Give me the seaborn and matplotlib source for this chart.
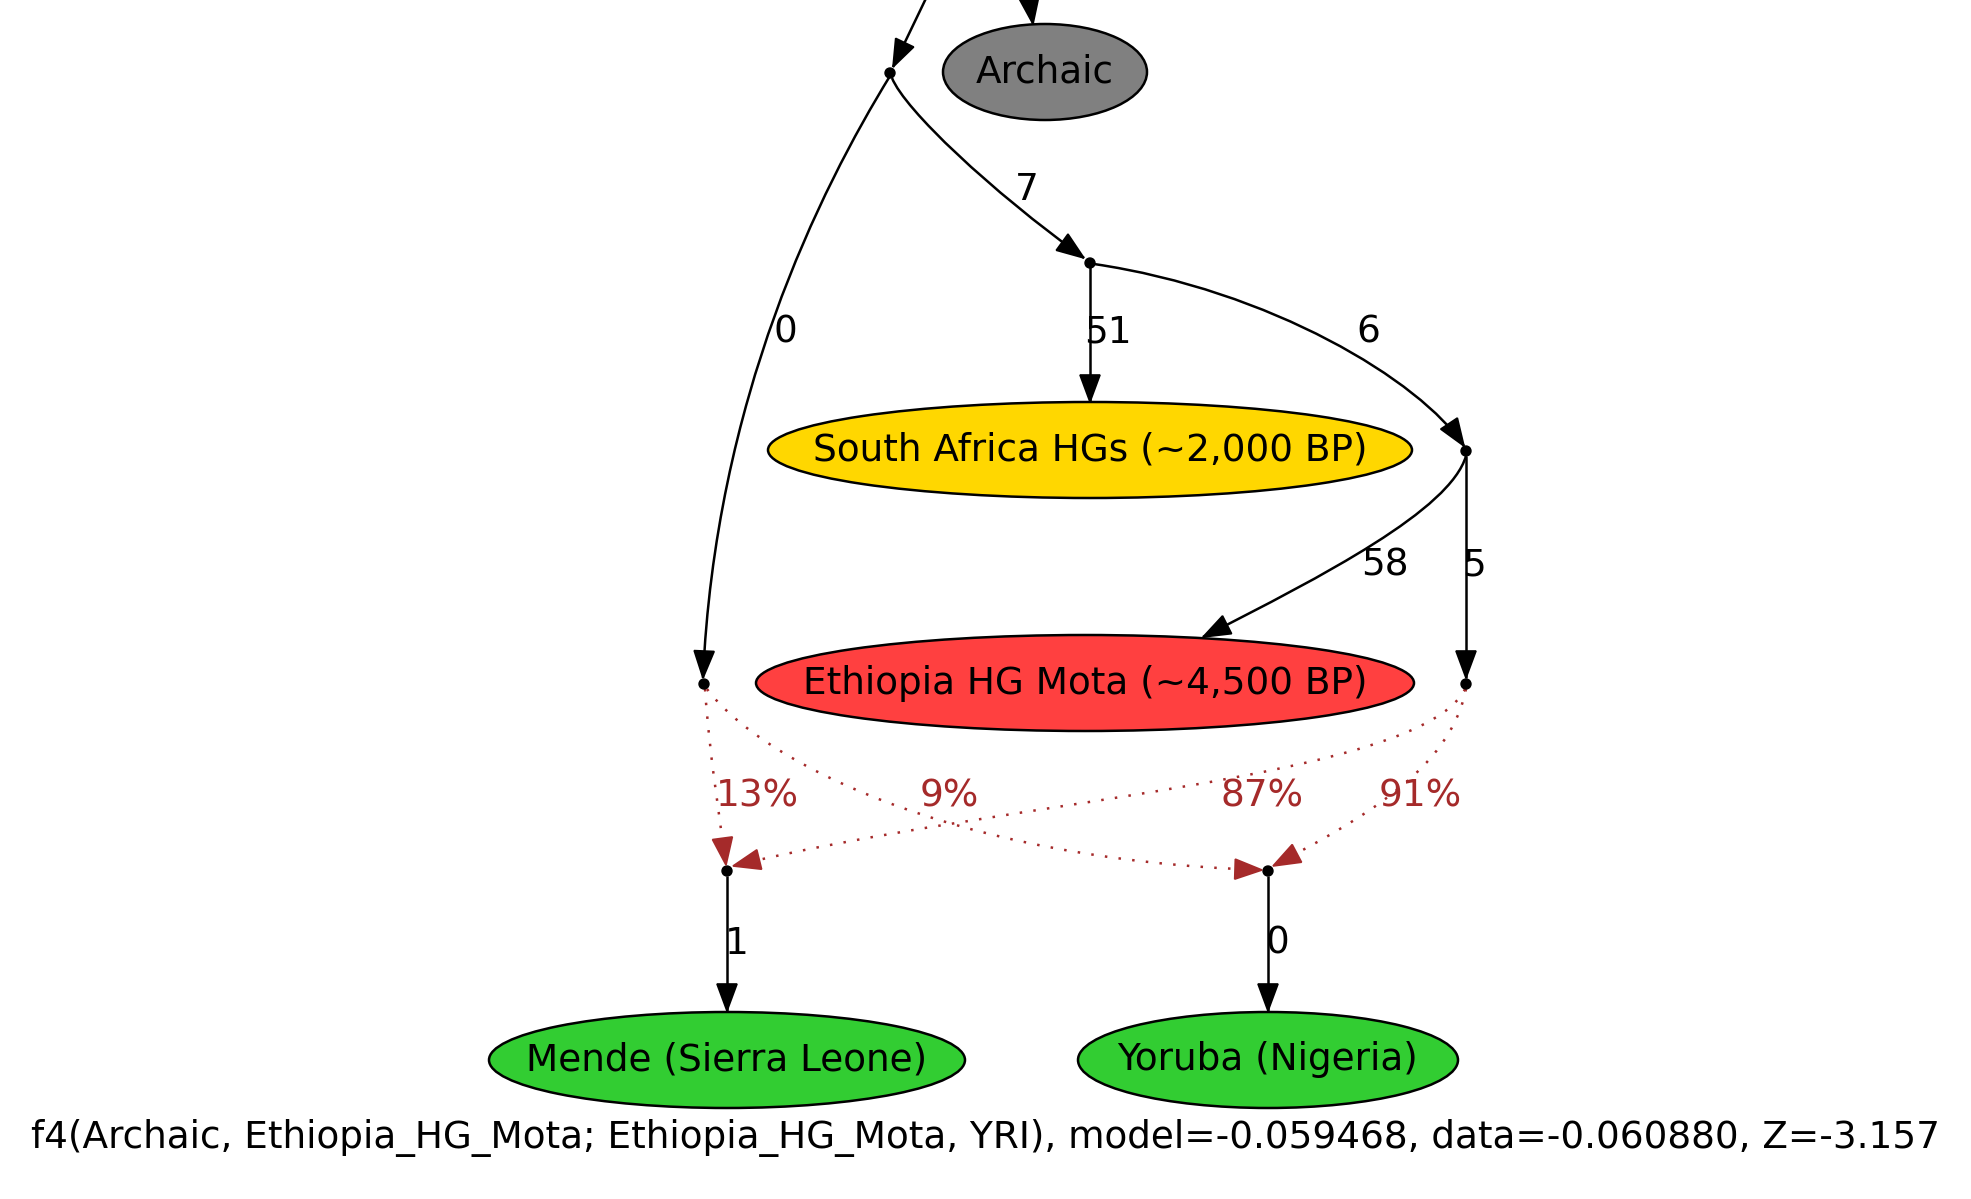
import numpy as np
import matplotlib
matplotlib.use("Agg")
import matplotlib.pyplot as plt
import seaborn as sns
from matplotlib.patches import Ellipse, Circle, Polygon, PathPatch
from matplotlib.path import Path

# данные графа
pop_names = ["Archaic", "South Africa HGs (~2,000 BP)", "Ethiopia HG Mota (~4,500 BP)",
             "Mende (Sierra Leone)", "Yoruba (Nigeria)"]
pop_keys = ["archaic", "sa", "eth", "mende", "yoruba"]
inner_nodes = ["A", "B", "C", "D", "E", "F", "G"]

drift_edges = [("A", "D"), ("A", "B"), ("B", "sa"), ("B", "C"),
               ("C", "eth"), ("C", "E"), ("F", "mende"), ("G", "yoruba")]
drift_labels = ["0", "7", "51", "6", "58", "5", "1", "0"]

admix_edges = [("D", "F"), ("D", "G"), ("E", "F"), ("E", "G")]
admix_pct = [13, 9, 87, 91]

title = "f4(Archaic, Ethiopia_HG_Mota; Ethiopia_HG_Mota, YRI), model=-0.059468, data=-0.060880, Z=-3.157"

# раскладка (пиксели картинки)
node_pos = {"A": (890, 73), "B": (1090, 263), "C": (1466, 451), "D": (704, 684),
            "E": (1466, 684), "F": (727, 871), "G": (1268, 871),
            "archaic": (1045, 72), "sa": (1090, 450), "eth": (1085, 683),
            "mende": (727, 1060), "yoruba": (1268, 1060)}
node_rx = {"archaic": 102, "sa": 322, "eth": 329, "mende": 238, "yoruba": 190}
node_color = {"archaic": "#808080", "sa": "#FFD700", "eth": "#FF4040",
              "mende": "#32CD32", "yoruba": "#32CD32"}
RY = 48

edge_paths = {
    ("top", "A"): [(930, -10), (893, 67)],
    ("top", "archaic"): [(1028, -10), (1033, 24)],
    ("A", "D"): [(890, 76), (820, 190), (715, 400), (703, 678)],
    ("A", "B"): [(892, 78), (905, 110), (990, 190), (1084, 258)],
    ("B", "sa"): [(1090, 266), (1090, 402)],
    ("B", "C"): [(1094, 264), (1270, 290), (1420, 380), (1464, 446)],
    ("C", "eth"): [(1466, 456), (1450, 510), (1325, 575), (1203, 637)],
    ("C", "E"): [(1466, 456), (1466, 678)],
    ("D", "F"): [(705, 689), (710, 760), (720, 820), (726, 865)],
    ("D", "G"): [(707, 689), (760, 760), (950, 860), (1262, 870)],
    ("E", "F"): [(1465, 689), (1420, 780), (1000, 800), (733, 866)],
    ("E", "G"): [(1466, 689), (1450, 770), (1360, 820), (1273, 866)],
    ("F", "mende"): [(727, 876), (727, 1011)],
    ("G", "yoruba"): [(1268, 876), (1268, 1011)],
}
label_pos = {("A", "D"): (785, 332), ("A", "B"): (1027, 189), ("B", "sa"): (1108, 332),
             ("B", "C"): (1368, 332), ("C", "eth"): (1385, 565), ("C", "E"): (1474, 565),
             ("F", "mende"): (737, 943), ("G", "yoruba"): (1277, 943),
             ("D", "F"): (757, 796), ("D", "G"): (949, 796),
             ("E", "F"): (1262, 796), ("E", "G"): (1420, 796)}

sns.set_theme(style="white")
plt.rcParams['font.family'] = ['DejaVu Sans']
FS = 26.9
BROWN = "#A52A2A"

W, H = 1971, 1199
fig = plt.figure(figsize=(W / 100, H / 100), dpi=100)
ax = fig.add_axes([0, 0, 1, 1])
ax.set_xlim(0, W)
ax.set_ylim(H, 0)
ax.axis('off')


def draw_edge(pts, color, dotted=False):
    pts = np.array(pts, dtype=float)
    codes = [Path.MOVETO] + ([Path.CURVE4] * 3 if len(pts) == 4 else [Path.LINETO])
    ls = (0, (1, 4.5)) if dotted else '-'
    ax.add_patch(PathPatch(Path(pts, codes), fill=False, ec=color, lw=1.8,
                           ls=ls, zorder=1))
    # наконечник стрелки
    tip, prev = pts[-1], pts[-2]
    d = (tip - prev) / np.linalg.norm(tip - prev)
    perp = np.array([-d[1], d[0]])
    base = tip - 27 * d
    tri = [tip, base + 10 * perp, base - 10 * perp]
    ax.add_patch(Polygon(tri, closed=True, fc=color, ec=color, lw=1.2, zorder=4))


# рёбра дрейфа
draw_edge(edge_paths[("top", "A")], "black")
draw_edge(edge_paths[("top", "archaic")], "black")
for e, lab in zip(drift_edges, drift_labels):
    draw_edge(edge_paths[e], "black")
    x, y = label_pos[e]
    ax.text(x, y, lab, fontsize=FS, ha='center', va='center', color='black', zorder=5)

# рёбра смешения
for e, p in zip(admix_edges, admix_pct):
    draw_edge(edge_paths[e], BROWN, dotted=True)
    x, y = label_pos[e]
    ax.text(x, y, f"{p}%", fontsize=FS, ha='center', va='center', color=BROWN, zorder=5)

# популяции
for key, name in zip(pop_keys, pop_names):
    x, y = node_pos[key]
    ax.add_patch(Ellipse((x, y), 2 * node_rx[key], 2 * RY, fc=node_color[key],
                         ec='black', lw=1.8, zorder=2))
    ax.text(x, y, name, fontsize=FS, ha='center', va='center', color='black', zorder=3)

# внутренние точки
for n in inner_nodes:
    ax.add_patch(Circle(node_pos[n], 5, fc='black', ec='black', zorder=3))

ax.text(W / 2, 1138, title, fontsize=FS, ha='center', va='center', color='black')

fig.savefig("out.png", dpi=100, facecolor='white')
